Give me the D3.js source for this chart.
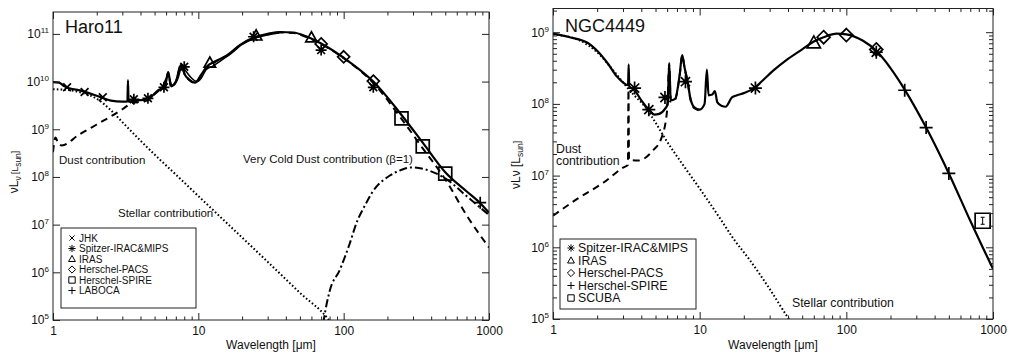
<!DOCTYPE html>
<html>
<head>
<meta charset="utf-8">
<script src="https://cdn.jsdelivr.net/npm/d3@7"></script>
<style>
  body { margin: 0; background: #fff; }
  svg { font-family: "Liberation Sans", Arial, sans-serif; }
</style>
</head>
<body>
<svg id="chart" width="1011" height="353"></svg>
<script>
// every series: [wavelength in micron, log10(nuL_nu / L_sun)]

// ---- Haro11 ----
const haroTotal = [[1,9.99],[1.1,9.98],[1.2,9.9],[1.6,9.8],[2.1,9.68],[2.5,9.6],[3.0,9.58],[3.25,9.58],[3.28,10.03],[3.31,9.58],
  [3.6,9.6],[4.4,9.62],[5.3,9.82],[5.9,9.9],[6.2,10.2],[6.5,9.9],[7.0,10.0],[7.6,10.35],[8.1,10.14],[8.6,10.05],[9.5,9.98],
  [10.5,10.15],[11.5,10.32],[13,10.42],[15.7,10.55],[19.4,10.77],[23.8,10.92],[30,11.0],[36.5,11.04],[45,11.03],[55,10.95],
  [70,10.8],[100,10.5],[160,10.0],[250,9.3],[350,8.72],[500,8.1],[700,7.7],[870,7.45],[1000,7.25]];
const haroSpectrum = [[5.2,9.8],[5.6,9.86],[6.2,10.12],[6.6,9.92],[7.2,10.05],[7.7,10.3],[8.3,10.2],[8.8,10.1],[9.8,10.0],
  [10.5,10.08],[11.3,10.25],[12.5,10.32],[14,10.42],[17,10.6],[20,10.78],[24,10.9],[30,10.98],[36,11.02]];
const haroDust = [[1,8.52],[1.04,8.83],[1.08,8.72],[1.15,8.66],[1.5,8.88],[2,9.1],[2.5,9.27],[3,9.42],[3.5,9.55],[4.4,9.6],
  [5.3,9.8],[5.9,9.88],[6.2,10.19],[6.5,9.88],[7.0,9.99],[7.6,10.34],[8.1,10.13],[8.6,10.04],[9.5,9.97],[10.5,10.14],
  [11.5,10.31],[13,10.41],[15.7,10.54],[19.4,10.76],[23.8,10.91],[30,10.99],[36.5,11.03],[45,11.02],[55,10.94],[70,10.79],
  [100,10.49],[160,9.97],[250,9.22],[350,8.6],[500,7.95],[700,7.2],[1000,6.52]];
const haroStellar = [[1,9.84],[1.3,9.82],[1.6,9.76],[2,9.64],[2.5,9.4],[3,9.15],[4,8.76],[5,8.47],[7,8.05],[10,7.6],
  [15,7.09],[20,6.73],[30,6.22],[50,5.57],[80,4.98],[90,4.75]];
const haroColdDust = [[70,4.6],[73,5.0],[80,5.6],[94,6.05],[110,6.6],[123,7.05],[140,7.4],[159,7.7],[208,8.03],[250,8.15],
  [290,8.2],[350,8.17],[500,7.97],[700,7.6],[1000,7.2]];

const haroJHK = [[1.25,9.88],[1.65,9.78],[2.2,9.67]];
const haroSpitzer = [[3.6,9.63],[4.5,9.65],[5.8,9.88],[8.0,10.31],[24,10.94],[70,10.66],[160,9.88]];
const haroIRAS = [[12,10.39],[25,10.96],[60,10.92]];
const haroPACS = [[70,10.79],[100,10.52],[160,10.01]];
const haroSPIRE = [[250,9.23],[350,8.64],[500,8.07]];
const haroLABOCA = [[870,7.46]];

// ---- NGC4449 ----
const ngcTotal = [[1,8.98],[1.3,8.93],[1.73,8.85],[2.0,8.74],[2.37,8.56],[2.73,8.38],[3.0,8.3],[3.25,8.26],[3.28,8.55],[3.31,8.25],
  [3.6,8.19],[4.0,8.05],[4.5,7.92],[4.9,7.85],[5.3,7.86],[5.8,7.93],[6.05,8.0],[6.2,8.57],[6.35,8.05],[6.8,8.07],[7.3,8.4],
  [7.6,8.68],[7.9,8.5],[8.3,8.3],[8.6,8.1],[9.2,7.95],[10.0,7.92],[10.8,8.0],[11.2,8.48],[11.5,8.12],[12.2,8.13],[12.7,8.18],
  [13.2,8.02],[14.2,7.97],[15.0,7.96],[16.6,8.09],[18,8.12],[20,8.15],[23.5,8.22],[27,8.33],[32,8.47],[39,8.61],[50,8.76],
  [60,8.87],[70,8.93],[86,8.98],[100,8.97],[130,8.88],[160,8.74],[200,8.5],[250,8.2],[350,7.67],[500,7.03],[700,6.37],
  [850,6.0],[1000,5.7]];
const ngcDust = [[1,6.44],[1.5,6.69],[2.2,6.9],[3.0,7.11],[3.24,7.15],[3.27,8.2],[3.3,7.22],[3.8,7.21],[4.8,7.35],[5.5,7.53],
  [6.0,7.91],[6.2,8.55],[6.35,8.03],[6.8,8.06],[7.3,8.39],[7.6,8.67],[7.9,8.49],[8.3,8.29],[8.6,8.09],[9.2,7.94],[10,7.91]];
const ngcStellar = [[1,8.97],[1.5,8.89],[2,8.72],[2.5,8.5],[3.0,8.3],[3.5,8.14],[4.24,7.96],[5,7.74],[5.8,7.52],[8,7.1],
  [10,6.82],[13.7,6.41],[17,6.12],[22,5.82],[30,5.42],[40,5.02],[48,4.8]];

const ngcSpitzer = [[3.6,8.22],[4.5,7.92],[5.8,8.09],[8.0,8.31],[24,8.22],[160,8.72]];
const ngcIRAS = [[60,8.85]];
const ngcPACS = [[70,8.93],[100,8.96],[160,8.76]];
const ngcSPIRE = [[250,8.19],[350,7.67],[500,7.03]];
const ngcSCUBA = [[850,6.37]];

// ---- axes / legends ----
const xTicks = [1, 10, 100, 1000];
const haroYTicks = [1e5, 1e6, 1e7, 1e8, 1e9, 1e10, 1e11];
const ngcYTicks = [1e5, 1e6, 1e7, 1e8, 1e9];
const haroLegend = [['cross','JHK'],['asterisk','Spitzer-IRAC&MIPS'],['triangle','IRAS'],['diamond','Herschel-PACS'],
  ['square','Herschel-SPIRE'],['plus','LABOCA']];
const ngcLegend = [['asterisk','Spitzer-IRAC&MIPS'],['triangle','IRAS'],['diamond','Herschel-PACS'],
  ['plus','Herschel-SPIRE'],['square','SCUBA']];

const svg = d3.select('#chart');

function symbolPath(type, r) {
  const a = r * 0.7071;
  switch (type) {
    case 'cross': return `M${-a},${-a}L${a},${a}M${-a},${a}L${a},${-a}`;
    case 'asterisk': return `M${-r},0L${r},0M0,${-r}L0,${r}M${-a},${-a}L${a},${a}M${-a},${a}L${a},${-a}`;
    case 'plus': return `M${-r},0L${r},0M0,${-r}L0,${r}`;
    case 'triangle': return `M0,${-r}L${r * 0.95},${r * 0.7}L${-r * 0.95},${r * 0.7}Z`;
    case 'diamond': return `M0,${-r}L${r},0L0,${r}L${-r},0Z`;
    case 'square': return `M${-r},${-r}H${r}V${r}H${-r}Z`;
  }
}

function supLabel(sel, base) {
  sel.each(function (d) {
    const t = d3.select(this).text('');
    t.append('tspan').text(base);
    t.append('tspan').attr('dy', -5).attr('font-size', 8).text(Math.round(Math.log10(d)));
  });
}

function panel(cfg) {
  const x = d3.scaleLog().domain([1, 1000]).range([cfg.left, cfg.right]);
  const y = d3.scaleLog().domain(cfg.yDomain).range([cfg.bottom, cfg.top]);
  const g = svg.append('g');

  const clipId = 'clip-' + cfg.id;
  svg.append('clipPath').attr('id', clipId).append('rect')
    .attr('x', cfg.left).attr('y', cfg.top)
    .attr('width', cfg.right - cfg.left).attr('height', cfg.bottom - cfg.top);

  const line = d3.line()
    .x(d => x(d[0]))
    .y(d => y(10 ** d[1]))
    .curve(d3.curveMonotoneX);

  const curves = g.append('g').attr('clip-path', `url(#${clipId})`);
  cfg.curves.forEach(c => {
    curves.append('path')
      .datum(c.data)
      .attr('d', line)
      .attr('fill', 'none')
      .attr('stroke', '#000')
      .attr('stroke-width', c.width)
      .attr('stroke-dasharray', c.dash || null)
      .attr('stroke-linejoin', 'round');
  });

  cfg.points.forEach(p => {
    const pts = g.append('g').selectAll(null)
      .data(p.data)
      .join('g')
      .attr('transform', d => `translate(${x(d[0])},${y(10 ** d[1])})`);
    pts.append('path')
      .attr('d', symbolPath(p.type, p.r))
      .attr('fill', 'none')
      .attr('stroke', '#000')
      .attr('stroke-width', p.sw || 1.7);
    if (p.errbar) {
      pts.append('path').attr('d', 'M0,-3.5V3.5M-2,-3.5H2M-2,3.5H2')
        .attr('stroke', '#000').attr('stroke-width', 1).attr('fill', 'none');
    }
  });

  // frame
  g.append('rect')
    .attr('x', cfg.left).attr('y', cfg.top)
    .attr('width', cfg.right - cfg.left).attr('height', cfg.bottom - cfg.top)
    .attr('fill', 'none').attr('stroke', '#222').attr('stroke-width', 1);

  const xMinor = x.ticks().filter(v => !xTicks.includes(v));
  const axisStyle = a => a.attr('font-family', null).attr('font-size', null)
    .call(s => s.select('.domain').remove())
    .call(s => s.selectAll('line').attr('stroke', '#222'));

  g.append('g').attr('transform', `translate(0,${cfg.bottom})`)
    .call(d3.axisBottom(x).tickValues(xTicks).tickSizeInner(-7).tickSizeOuter(0).tickPadding(6).tickFormat(d3.format('d')))
    .call(axisStyle)
    .call(s => s.selectAll('text').attr('font-size', 12).attr('fill', '#111'));
  g.append('g').attr('transform', `translate(0,${cfg.bottom})`)
    .call(d3.axisBottom(x).tickValues(xMinor).tickSizeInner(-3.5).tickSizeOuter(0).tickFormat(''))
    .call(axisStyle);
  g.append('g').attr('transform', `translate(0,${cfg.top})`)
    .call(d3.axisTop(x).tickValues(xTicks).tickSizeInner(-7).tickSizeOuter(0).tickFormat(''))
    .call(axisStyle);
  g.append('g').attr('transform', `translate(0,${cfg.top})`)
    .call(d3.axisTop(x).tickValues(xMinor).tickSizeInner(-3.5).tickSizeOuter(0).tickFormat(''))
    .call(axisStyle);

  g.append('g').attr('transform', `translate(${cfg.left},0)`)
    .call(d3.axisLeft(y).tickValues(cfg.yTicks).tickSizeInner(-7).tickSizeOuter(0).tickPadding(4))
    .call(axisStyle)
    .call(s => s.selectAll('text').attr('font-size', 12).attr('fill', '#111').call(supLabel, '10'));
  g.append('g').attr('transform', `translate(${cfg.right},0)`)
    .call(d3.axisRight(y).tickValues(cfg.yTicks).tickSizeInner(-7).tickSizeOuter(0).tickFormat(''))
    .call(axisStyle);

  if (cfg.yMinor) {
    const yMinor = y.ticks().filter(v => !cfg.yTicks.includes(v));
    g.append('g').attr('transform', `translate(${cfg.left},0)`)
      .call(d3.axisLeft(y).tickValues(yMinor).tickSizeInner(-4).tickSizeOuter(0).tickFormat(''))
      .call(axisStyle);
    g.append('g').attr('transform', `translate(${cfg.right},0)`)
      .call(d3.axisRight(y).tickValues(yMinor).tickSizeInner(-4).tickSizeOuter(0).tickFormat(''))
      .call(axisStyle);
  }

  // titles and labels
  g.append('text').attr('x', cfg.left + 12).attr('y', cfg.titleY)
    .attr('font-size', 18).attr('fill', '#111').text(cfg.title);

  g.append('text')
    .attr('x', (cfg.left + cfg.right) / 2).attr('y', 349)
    .attr('text-anchor', 'middle').attr('font-size', 12).attr('fill', '#111')
    .text('Wavelength [μm]');

  const yl = g.append('text')
    .attr('transform', `translate(${cfg.yLabelX},${cfg.yLabelY}) rotate(-90)`)
    .attr('text-anchor', 'middle').attr('font-size', 12).attr('fill', '#111');
  cfg.yLabel.forEach(([txt, sub]) => {
    yl.append('tspan').text(txt)
      .attr('font-size', sub ? 8.5 : 12)
      .attr('dy', sub === 1 ? 3 : sub === -1 ? -3 : 0);
  });

  cfg.notes.forEach(n => {
    g.append('text').attr('x', n.x).attr('y', n.y)
      .attr('font-size', n.size).attr('fill', '#111').text(n.text);
  });

  // legend
  const lg = g.append('g');
  lg.append('rect').attr('x', cfg.legend.x).attr('y', cfg.legend.y)
    .attr('width', cfg.legend.w).attr('height', cfg.legend.h)
    .attr('fill', '#fff').attr('stroke', '#222').attr('stroke-width', 1);
  const rows = lg.selectAll(null).data(cfg.legend.items).join('g')
    .attr('transform', (d, i) => `translate(${cfg.legend.x + 11},${cfg.legend.y + cfg.legend.first + i * cfg.legend.step})`);
  rows.append('path').attr('d', d => symbolPath(d[0], d[0] === 'square' ? 3.2 : 3.6))
    .attr('fill', 'none').attr('stroke', '#000').attr('stroke-width', 1);
  rows.append('text').attr('x', 7).attr('y', cfg.legend.size * 0.36)
    .attr('font-size', cfg.legend.size).attr('fill', '#111').text(d => d[1]);
}

panel({
  id: 'haro', title: 'Haro11', titleY: 33,
  left: 53, right: 489, top: 12, bottom: 320,
  yDomain: [1e5, 2.88e11], yTicks: haroYTicks, yMinor: false,
  yLabelX: 18, yLabelY: 172,
  yLabel: [['νL', 0], ['ν', 1], [' [L', -1], ['sun', 1], [']', -1]],
  curves: [
    { data: haroStellar, width: 2, dash: '1.6,2.2' },
    { data: haroColdDust, width: 2, dash: '8,3,2,3' },
    { data: haroDust, width: 2, dash: '7,5' },
    { data: haroSpectrum, width: 1.6 },
    { data: haroTotal, width: 2.2 }
  ],
  points: [
    { data: haroJHK, type: 'cross', r: 5.5 },
    { data: haroSpitzer, type: 'asterisk', r: 5.5 },
    { data: haroIRAS, type: 'triangle', r: 6 },
    { data: haroPACS, type: 'diamond', r: 6 },
    { data: haroSPIRE, type: 'square', r: 6.5 },
    { data: haroLABOCA, type: 'plus', r: 6 }
  ],
  notes: [
    { text: 'Dust contribution', x: 59, y: 164, size: 11.5 },
    { text: 'Very Cold Dust contribution (β=1)', x: 243, y: 163, size: 11.5 },
    { text: 'Stellar contribution', x: 118, y: 217, size: 11.5 }
  ],
  legend: { x: 61, y: 228, w: 135, h: 80, first: 10, step: 10.5, size: 10, items: haroLegend }
});

panel({
  id: 'ngc', title: 'NGC4449', titleY: 32,
  left: 553, right: 993, top: 8.5, bottom: 319,
  yDomain: [1e5, 2.14e9], yTicks: ngcYTicks, yMinor: true,
  yLabelX: 520, yLabelY: 165,
  yLabel: [['νLν [L', 0], ['sun', 1], [']', -1]],
  curves: [
    { data: ngcStellar, width: 2, dash: '1.6,2.2' },
    { data: ngcDust, width: 2, dash: '7,5' },
    { data: ngcTotal, width: 2.2 }
  ],
  points: [
    { data: ngcSpitzer, type: 'asterisk', r: 6.5 },
    { data: ngcIRAS, type: 'triangle', r: 7 },
    { data: ngcPACS, type: 'diamond', r: 6.5 },
    { data: ngcSPIRE, type: 'plus', r: 6.5 },
    { data: ngcSCUBA, type: 'square', r: 7.5, errbar: true }
  ],
  notes: [
    { text: 'Dust', x: 556, y: 153, size: 12.3 },
    { text: 'contribution', x: 556, y: 165, size: 12.3 },
    { text: 'Stellar contribution', x: 792, y: 307, size: 12.3 }
  ],
  legend: { x: 560, y: 239, w: 136, h: 70, first: 9, step: 12.5, size: 12.3, items: ngcLegend }
});
</script>
</body>
</html>
